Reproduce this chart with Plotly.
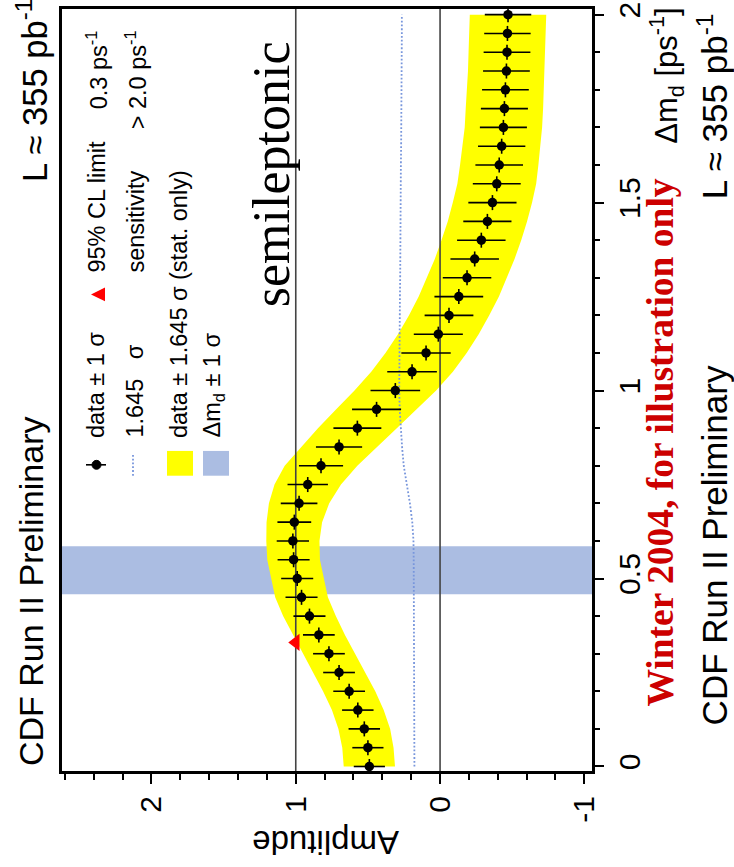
import plotly.graph_objects as go

# ---------------- data ----------------
dm = [0.00, 0.05, 0.10, 0.15, 0.20, 0.25, 0.30, 0.35, 0.40, 0.45,
      0.50, 0.55, 0.60, 0.65, 0.70, 0.75, 0.80, 0.85, 0.90, 0.95,
      1.00, 1.05, 1.10, 1.15, 1.20, 1.25, 1.30, 1.35, 1.40, 1.45,
      1.50, 1.55, 1.60, 1.65, 1.70, 1.75, 1.80, 1.85, 1.90, 1.95, 2.00]

amplitude = [0.49, 0.50, 0.525, 0.57, 0.63, 0.70, 0.77, 0.84, 0.905, 0.96,
             0.99, 1.015, 1.02, 1.01, 0.977, 0.917, 0.825, 0.70, 0.573, 0.44,
             0.31, 0.194, 0.097, 0.012, -0.062, -0.13, -0.187, -0.24, -0.286, -0.328,
             -0.363, -0.393, -0.41, -0.427, -0.439, -0.446, -0.453, -0.46, -0.464, -0.467, -0.471]

sigma = [0.108, 0.108, 0.109, 0.109, 0.110, 0.110, 0.110, 0.110, 0.111, 0.111,
         0.111, 0.111, 0.112, 0.117, 0.127, 0.140, 0.153, 0.160, 0.166, 0.170,
         0.172, 0.172, 0.171, 0.170, 0.169, 0.169, 0.168, 0.168, 0.168, 0.167,
         0.167, 0.166, 0.165, 0.164, 0.163, 0.163, 0.162, 0.162, 0.162, 0.161, 0.161]

dm_halfbin = [0.02] * len(dm)

cl_factor = 1.645
limit_dm = [0.33]
limit_amp = [1.0]

dmd_center = 0.522
dmd_err = 0.064

ref_levels = [0.0, 1.0]

amp_range = [2.62, -1.053]
dm_range = [-0.012, 2.015]

amp_tickvals = [2, 1, 0, -1]
amp_ticktext = ["2", "1", "0", "-1"]
dm_tickvals = [0, 0.5, 1, 1.5, 2]
dm_ticktext = ["0", "0.5", "1", "1.5", "2"]

# ---------------- layout geometry (pixels) ----------------
W, H = 734, 867
ML, MR, MT, MB = 62, 142, 2, 96
PW = W - ML - MR
PH = H - MT - MB


def PX(px):
    return (px - ML) / PW


def PY(py):
    return (H - MB - py) / PH


SANS = "Liberation Sans, Arial, sans-serif"
SERIF = "Liberation Serif, Times New Roman, serif"
YELLOW = "#ffff00"
BLUE = "#abbde2"
DOT = "#7896dc"

fig = go.Figure()

# yellow band: data +- 1.645 sigma
upper = [a + cl_factor * s for a, s in zip(amplitude, sigma)]
lower = [a - cl_factor * s for a, s in zip(amplitude, sigma)]
fig.add_trace(go.Scatter(
    x=upper + lower[::-1], y=dm + dm[::-1], mode="lines", fill="toself",
    fillcolor=YELLOW, line=dict(width=0), hoverinfo="skip", showlegend=False))

# reference lines at amplitude 0 and 1
for lvl in ref_levels:
    fig.add_trace(go.Scatter(x=[lvl, lvl], y=dm_range, mode="lines",
                             line=dict(color="#444444", width=1.6),
                             hoverinfo="skip", showlegend=False))

# 1.645 sigma dotted line
fig.add_trace(go.Scatter(x=[cl_factor * s for s in sigma], y=dm, mode="lines",
                         line=dict(color=DOT, width=1.8, dash="1.8px,2px"),
                         showlegend=False))

# data points with 1 sigma errors
fig.add_trace(go.Scatter(
    x=amplitude, y=dm, mode="markers",
    marker=dict(color="black", size=9.5, symbol="circle"),
    error_x=dict(type="data", array=sigma, color="black", thickness=1.6, width=0),
    error_y=dict(type="data", array=dm_halfbin, color="black", thickness=1.6, width=0),
    showlegend=False))

# 95% CL limit triangle
fig.add_trace(go.Scatter(x=limit_amp, y=limit_dm, mode="markers",
                         marker=dict(color="#ff0000", size=15, symbol="triangle-left"),
                         showlegend=False))

shapes = []
# delta m_d band
shapes.append(dict(type="rect", xref="paper", yref="y", x0=0, x1=1,
                   y0=dmd_center - dmd_err, y1=dmd_center + dmd_err,
                   fillcolor=BLUE, line=dict(width=0), layer="below"))

# legend symbols (paper coordinates)
shapes.append(dict(type="line", xref="paper", yref="paper",
                   x0=PX(86), x1=PX(106), y0=PY(462), y1=PY(462),
                   line=dict(color="black", width=1.6)))
shapes.append(dict(type="circle", xref="paper", yref="paper",
                   x0=PX(92), x1=PX(101), y0=PY(466.5), y1=PY(457.5),
                   fillcolor="black", line=dict(color="black", width=1)))
shapes.append(dict(type="line", xref="paper", yref="paper",
                   x0=PX(133), x1=PX(133), y0=PY(452), y1=PY(473),
                   line=dict(color=DOT, width=1.8, dash="1.8px,2px")))
shapes.append(dict(type="rect", xref="paper", yref="paper",
                   x0=PX(167), x1=PX(193), y0=PY(473), y1=PY(448),
                   fillcolor=YELLOW, line=dict(width=0)))
shapes.append(dict(type="rect", xref="paper", yref="paper",
                   x0=PX(203), x1=PX(229), y0=PY(473), y1=PY(448),
                   fillcolor=BLUE, line=dict(width=0)))
tri = "M {} {} L {} {} L {} {} Z".format(PX(91), PY(290), PX(105), PY(283), PX(105), PY(297))
shapes.append(dict(type="path", xref="paper", yref="paper", path=tri,
                   fillcolor="#ff0000", line=dict(width=0)))

annotations = []


def txt(text, px, py, size, family=SANS, color="black", yanchor="middle",
        angle=-90, bold=False):
    if bold:
        text = "<b>" + text + "</b>"
    annotations.append(dict(text=text, x=PX(px), y=PY(py), xref="paper", yref="paper",
                            xanchor="center", yanchor=yanchor, textangle=angle,
                            showarrow=False, font=dict(family=family, size=size, color=color)))


LEG = 23.5

# left side (top of original)
txt("CDF Run II Preliminary", 31, 768, 34, yanchor="bottom")
txt("L ≈ 355 pb<sup>-1</sup>", 32, 179, 34.5, yanchor="bottom")

# legend texts
txt("data ± 1 σ", 96, 437, LEG, yanchor="bottom")
txt("95% CL limit", 97, 270, LEG, yanchor="bottom")
txt("0.3 ps<sup>-1</sup>", 97, 22, LEG, yanchor="top")
txt("1.645&nbsp;&nbsp; σ", 135, 437, LEG, yanchor="bottom")
txt("sensitivity", 136, 270, LEG, yanchor="bottom")
txt("> 2.0 ps<sup>-1</sup>", 136, 22, LEG, yanchor="top")
txt("data ± 1.645 σ (stat. only)", 179, 437, LEG, yanchor="bottom")
txt("Δm<sub>d</sub> ± 1 σ", 214, 437, LEG, yanchor="bottom")

# semileptonic
txt("semileptonic", 271, 305, 52, family=SERIF, yanchor="bottom")

# right side
txt("Winter 2004, for illustration only", 661, 708, 37.5, family=SERIF,
    color="#cc0000", yanchor="bottom", bold=True)
txt("Δm<sub>d</sub> [ps<sup>-1</sup>]", 667, 140, 31, yanchor="bottom")
txt("CDF Run II Preliminary", 714, 727, 35, yanchor="bottom")
txt("L ≈ 355 pb<sup>-1</sup>", 713, 196, 35, yanchor="bottom")

# amplitude axis title (upside down)
txt("Amplitude", 326, 843, 33, angle=180)

fig.update_layout(
    width=W, height=H,
    margin=dict(l=ML, r=MR, t=MT, b=MB),
    paper_bgcolor="white", plot_bgcolor="white",
    showlegend=False,
    shapes=shapes, annotations=annotations,
    xaxis=dict(range=amp_range, tickvals=amp_tickvals, ticktext=amp_ticktext,
               tickangle=-90, ticks="outside", ticklen=10, tickwidth=2, tickcolor="black",
               minor=dict(dtick=0.2, tick0=0, ticks="outside", ticklen=6, tickwidth=1.5,
                          tickcolor="black", showgrid=False),
               showline=True, linewidth=3, linecolor="black", mirror=True,
               showgrid=False, zeroline=False, ticklabeloverflow="allow",
               tickfont=dict(family=SANS, size=30, color="black")),
    yaxis=dict(range=dm_range, tickvals=dm_tickvals, ticktext=dm_ticktext, side="right",
               tickangle=-90, ticks="outside", ticklen=9, tickwidth=2, tickcolor="black",
               minor=dict(dtick=0.1, tick0=0, ticks="outside", ticklen=5, tickwidth=1.5,
                          tickcolor="black", showgrid=False),
               showline=True, linewidth=3, linecolor="black", mirror=True,
               showgrid=False, zeroline=False, ticklabeloverflow="allow",
               tickfont=dict(family=SANS, size=30, color="black")),
)

fig.write_html("out.html")
